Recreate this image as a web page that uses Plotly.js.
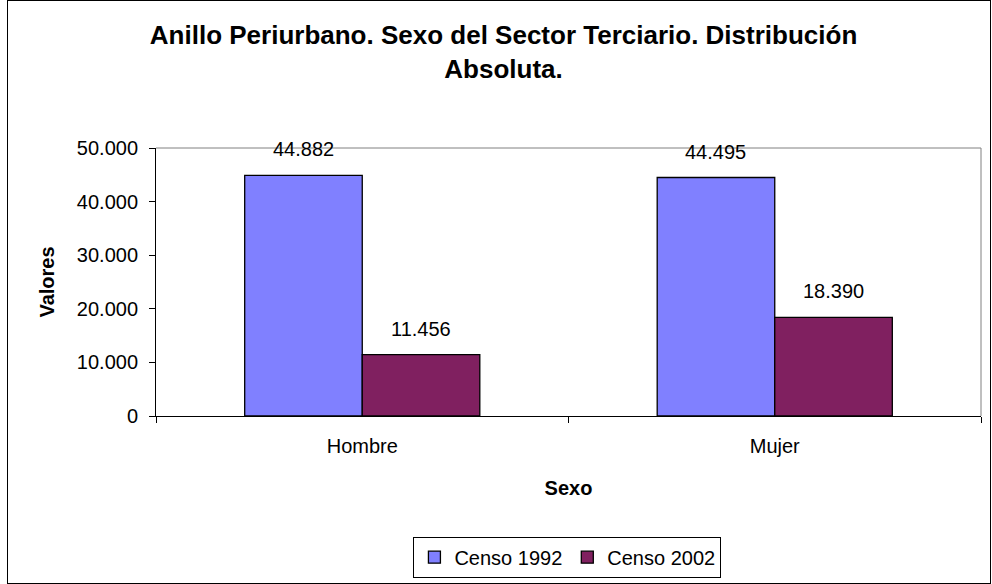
<!DOCTYPE html>
<html><head><meta charset="utf-8">
<script src="https://cdn.plot.ly/plotly-3.0.1.min.js"></script>
<style>html,body{margin:0;padding:0;background:#fff;}#wrap{position:relative;width:992px;height:584px;}
#frame{position:absolute;left:7px;top:0px;width:982px;height:582px;border:1px solid #000;pointer-events:none;}
</style></head>
<body><div id="wrap"><div id="chart" style="width:992px;height:584px;"></div><div id="frame"></div></div>
<script>
const categories = ["Hombre", "Mujer"];
const censo1992 = [44882, 44495];
const censo2002 = [11456, 18390];
const seriesNames = ["Censo 1992", "Censo 2002"];
const yTicks = [0, 10000, 20000, 30000, 40000, 50000];
const yTickLabels = ["0", "10.000", "20.000", "30.000", "40.000", "50.000"];

function fmt(v){ return v.toString().replace(/\B(?=(\d{3})+(?!\d))/g, "."); }

const font = {family: "Liberation Sans, Arial, sans-serif", color: "#000"};
const traces = [
  {type:"bar", name: seriesNames[0], x: categories, y: censo1992,
   marker:{color:"#8080FF", line:{color:"#000", width:1.3}}},
  {type:"bar", name: seriesNames[1], x: categories, y: censo2002,
   marker:{color:"#802060", line:{color:"#000", width:1.3}}}
];
const annotations = [];
const offs = [-0.5, 0.5];
[censo1992, censo2002].forEach((arr, si) => {
  arr.forEach((v, i) => {
    annotations.push({x: i + offs[si]*0.285, y: v, xref:"x", yref:"y", text: fmt(v),
      showarrow:false, yshift: 26, font:{...font, size:20}});
  });
});
const layout = {
  width: 992, height: 584,
  margin: {l:156, r:11, t:148, b:168},
  paper_bgcolor:"#fff", plot_bgcolor:"#fff",
  font: font,
  title: {text: "<b>Anillo Periurbano. Sexo del Sector Terciario. Distribución<br>Absoluta.</b>",
    font:{...font, size:26}, x:0.5076, xref:"container", y:0.925, yref:"container", yanchor:"top"},
  barmode:"group", bargap:0.43, bargroupgap:0,
  showlegend:true,
  legend:{orientation:"h", x:0.572, xref:"container", xanchor:"center", y:0.046, yref:"container", yanchor:"middle",
    bordercolor:"#000", borderwidth:1, font:{...font, size:20}, itemwidth:30, traceorder:"normal"},
  xaxis:{type:"category", range:[-0.5,1.5], showline:true, linecolor:"#000", linewidth:1, mirror:false,
    ticks:"outside", tickson:"boundaries", ticklen:6, tickcolor:"#000", ticklabelstandoff:12,
    tickfont:{...font, size:20}, showgrid:false, zeroline:false,
    title:{text:"<b>Sexo</b>", font:{...font, size:20}, standoff:24}},
  yaxis:{range:[0,50000], tickvals:yTicks, ticktext:yTickLabels, showline:true, linecolor:"#000", linewidth:1,
    ticks:"outside", ticklen:6, tickcolor:"#000", ticklabelstandoff:7, tickfont:{...font, size:20}, showgrid:false, zeroline:false,
    title:{text:"<b>Valores</b>", font:{...font, size:20}, standoff:16}},
  shapes:[
    {type:"line", xref:"paper", yref:"paper", x0:0, x1:1, y0:1, y1:1, line:{color:"#808080", width:1}},
    {type:"line", xref:"paper", yref:"paper", x0:1, x1:1, y0:0, y1:1, line:{color:"#808080", width:1}}
  ],
  annotations: annotations
};
Plotly.newPlot("chart", traces, layout, {displayModeBar:false, staticPlot:true});
</script></body></html>
